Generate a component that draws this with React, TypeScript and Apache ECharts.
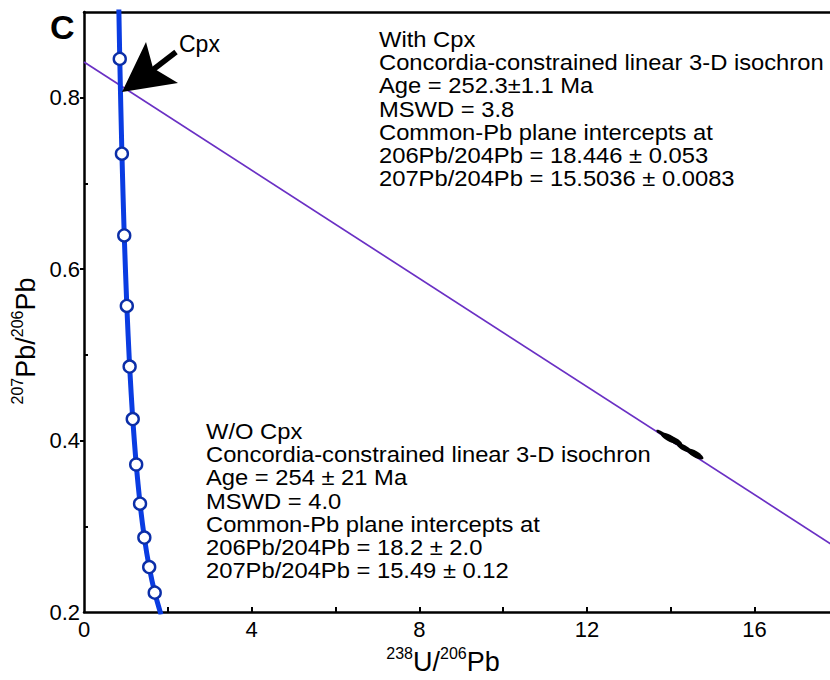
import React, { useEffect, useRef } from 'react';
import * as echarts from 'echarts';

// Concordia (Tera-Wasserburg) nodes
const concordiaAgesMa = [5200, 5000, 4800, 4600, 4400, 4200, 4000, 3800, 3600, 3400, 3200, 3000, 2800];
const concordiaX = [0.8062, 0.8533, 0.9045, 0.9603, 1.0215, 1.0887, 1.163, 1.2454, 1.3371, 1.4399, 1.5558, 1.6875, 1.838];
const concordiaY = [0.9735, 0.8453, 0.7347, 0.6393, 0.5571, 0.4863, 0.4251, 0.3721, 0.3264, 0.2868, 0.2524, 0.2226, 0.1968];
const markerAgesMa = [5000, 4800, 4600, 4400, 4200, 4000, 3800, 3600, 3400, 3200, 3000];

// Isochron: common-Pb intercept to concordia intercept at 252.3 Ma
const isochronX = [0, 25.05];
const isochronY = [0.8416, 0.05125];

// Analyses (error ellipses)
const dataX = [13.77, 13.96, 14.11, 14.32, 14.58];
const dataY = [0.4089, 0.4031, 0.3994, 0.3914, 0.3844];

const xLabelValues = [0, 4, 8, 12, 16];
const xTickValues = [2, 4, 6, 8, 10, 12, 14, 16];
const yLabelValues = [0.2, 0.4, 0.6, 0.8];
const yMajorTickValues = [0.4, 0.6, 0.8];
const yMinorTickValues = [0.3, 0.5, 0.7];

const withCpxLines = [
  'With Cpx',
  'Concordia-constrained linear 3-D isochron',
  'Age = 252.3\u00b11.1 Ma',
  'MSWD = 3.8',
  'Common-Pb plane intercepts at',
  '206Pb/204Pb = 18.446 \u00b1 0.053',
  '207Pb/204Pb = 15.5036 \u00b1 0.0083',
];
const woCpxLines = [
  'W/O Cpx',
  'Concordia-constrained linear 3-D isochron',
  'Age = 254 \u00b1 21 Ma',
  'MSWD = 4.0',
  'Common-Pb plane intercepts at',
  '206Pb/204Pb = 18.2 \u00b1 2.0',
  '207Pb/204Pb = 15.49 \u00b1 0.12',
];

const FONT = '"Liberation Sans", Arial, Helvetica, sans-serif';
const ELLIPSE =
  'path://M0,3C0,1.34,4.48,0,10,0C15.52,0,20,1.34,20,3C20,4.66,15.52,6,10,6C4.48,6,0,4.66,0,3Z';
const ELLIPSE_SIZES = [[11, 3.5], [19, 6.5], [16, 6], [17, 5.5], [19, 6.5]];

function textBlock(lines: string[], x: number, firstBaseline: number, step: number) {
  return lines.map((t, i) => ({
    type: 'text',
    x,
    y: firstBaseline + step * i - 7.7,
    scaleX: 1.08,
    style: {
      text: t,
      fontSize: 22,
      fontFamily: FONT,
      fill: '#000',
      textAlign: 'left',
      textVerticalAlign: 'middle',
    },
  }));
}

export default function App() {
  const ref = useRef<HTMLDivElement>(null);
  useEffect(() => {
    if (!ref.current) return;
    const chart = echarts.init(ref.current, null, { renderer: 'svg' });
    const concordia = concordiaX.map((x, i) => [x, concordiaY[i]]);
    const markers = concordiaAgesMa
      .map((a, i) => (markerAgesMa.includes(a) ? [concordiaX[i], concordiaY[i]] : null))
      .filter((d) => d !== null);
    const axisLineStyle = { color: '#000', width: 2.5 };
    const option: any = {
      animation: false,
      backgroundColor: '#fff',
      grid: { left: 84, right: 0, top: 12, bottom: 68, show: false, outerBoundsMode: 'none' },
      xAxis: [
        {
          type: 'value',
          min: 0,
          max: 17.8,
          position: 'bottom',
          axisLine: { show: true, lineStyle: axisLineStyle },
          axisTick: { show: true, inside: true, length: 5, customValues: xTickValues, lineStyle: { color: '#000', width: 2 } },
          axisLabel: { customValues: xLabelValues, fontSize: 22, color: '#000', fontFamily: FONT, margin: 6 },
          splitLine: { show: false },
        },
        {
          type: 'value',
          min: 0,
          max: 17.8,
          position: 'top',
          axisLine: { show: true, lineStyle: axisLineStyle },
          axisTick: { show: false },
          axisLabel: { show: false },
          splitLine: { show: false },
        },
      ],
      yAxis: [
        {
          type: 'value',
          min: 0.2,
          max: 0.9,
          position: 'left',
          axisLine: { show: true, lineStyle: axisLineStyle },
          axisTick: { show: true, inside: false, length: 4, customValues: yMajorTickValues, lineStyle: { color: '#000', width: 2 } },
          axisLabel: {
            customValues: yLabelValues,
            fontSize: 22,
            color: '#000',
            fontFamily: FONT,
            margin: 4,
            formatter: (v: number) => v.toFixed(1),
          },
          splitLine: { show: false },
        },
        {
          type: 'value',
          min: 0.2,
          max: 0.9,
          position: 'left',
          axisLine: { show: false },
          axisTick: { show: true, inside: true, length: 4, customValues: yMinorTickValues, lineStyle: { color: '#000', width: 2 } },
          axisLabel: { show: false },
          splitLine: { show: false },
        },
      ],
      series: [
        {
          type: 'line',
          xAxisIndex: 0,
          yAxisIndex: 0,
          data: isochronX.map((x, i) => [x, isochronY[i]]),
          showSymbol: false,
          lineStyle: { color: '#6a30c4', width: 1.7 },
          clip: true,
          z: 2,
        },
        {
          type: 'line',
          xAxisIndex: 0,
          yAxisIndex: 0,
          data: concordia,
          showSymbol: false,
          smooth: 0.2,
          lineStyle: { color: '#0a3ce2', width: 5 },
          clip: true,
          z: 3,
        },
        {
          type: 'scatter',
          xAxisIndex: 0,
          yAxisIndex: 0,
          data: markers,
          symbol: 'circle',
          symbolSize: 12,
          itemStyle: { color: '#fff', borderColor: '#0b2ea8', borderWidth: 2.4, opacity: 1 },
          z: 4,
        },
        {
          type: 'scatter',
          xAxisIndex: 0,
          yAxisIndex: 0,
          data: dataX.map((x, i) => [x, dataY[i]]),
          symbol: ELLIPSE,
          symbolSize: (_v: any, p: any) => ELLIPSE_SIZES[p.dataIndex % ELLIPSE_SIZES.length],
          symbolRotate: -30,
          itemStyle: { color: '#000', opacity: 1 },
          z: 5,
        },
      ],
      graphic: [
        {
          type: 'text',
          x: 50,
          y: 10,
          style: { text: 'C', fontSize: 34, fontWeight: 'bold', fontFamily: FONT, fill: '#000', textAlign: 'left', textVerticalAlign: 'top' },
        },
        {
          type: 'text',
          x: 179,
          y: 32,
          style: { text: 'Cpx', fontSize: 23, fontFamily: FONT, fill: '#000', textAlign: 'left', textVerticalAlign: 'top' },
        },
        {
          type: 'polygon',
          shape: { points: [[122, 92], [146, 42], [153, 68], [178, 83]] },
          style: { fill: '#000' },
          z: 10,
        },
        {
          type: 'line',
          shape: { x1: 150, y1: 72, x2: 176, y2: 52 },
          style: { stroke: '#000', lineWidth: 5.5 },
          z: 10,
        },
        ...textBlock(withCpxLines, 379, 46.7, 23.3),
        ...textBlock(woCpxLines, 206, 439, 23.2),
        {
          type: 'text',
          x: 24,
          y: 341,
          rotation: Math.PI / 2,
          style: {
            text: '{s|207}{m|Pb/}{s|206}{m|Pb}',
            textAlign: 'center',
            textVerticalAlign: 'middle',
            fill: '#000',
            rich: {
              s: { fontSize: 16, fontFamily: FONT, verticalAlign: 'top', lineHeight: 30, fill: '#000' },
              m: { fontSize: 27, fontFamily: FONT, verticalAlign: 'bottom', lineHeight: 30, fill: '#000' },
            },
          },
        },
        {
          type: 'text',
          x: 443,
          y: 660,
          style: {
            text: '{s|238}{m|U/}{s|206}{m|Pb}',
            textAlign: 'center',
            textVerticalAlign: 'middle',
            fill: '#000',
            rich: {
              s: { fontSize: 16, fontFamily: FONT, verticalAlign: 'top', lineHeight: 30, fill: '#000' },
              m: { fontSize: 27, fontFamily: FONT, verticalAlign: 'bottom', lineHeight: 30, fill: '#000' },
            },
          },
        },
      ],
    };
    chart.setOption(option);
    return () => chart.dispose();
  }, []);
  return <div ref={ref} style={{ position: 'absolute', left: 0, top: 0, width: 830, height: 680 }} />;
}
